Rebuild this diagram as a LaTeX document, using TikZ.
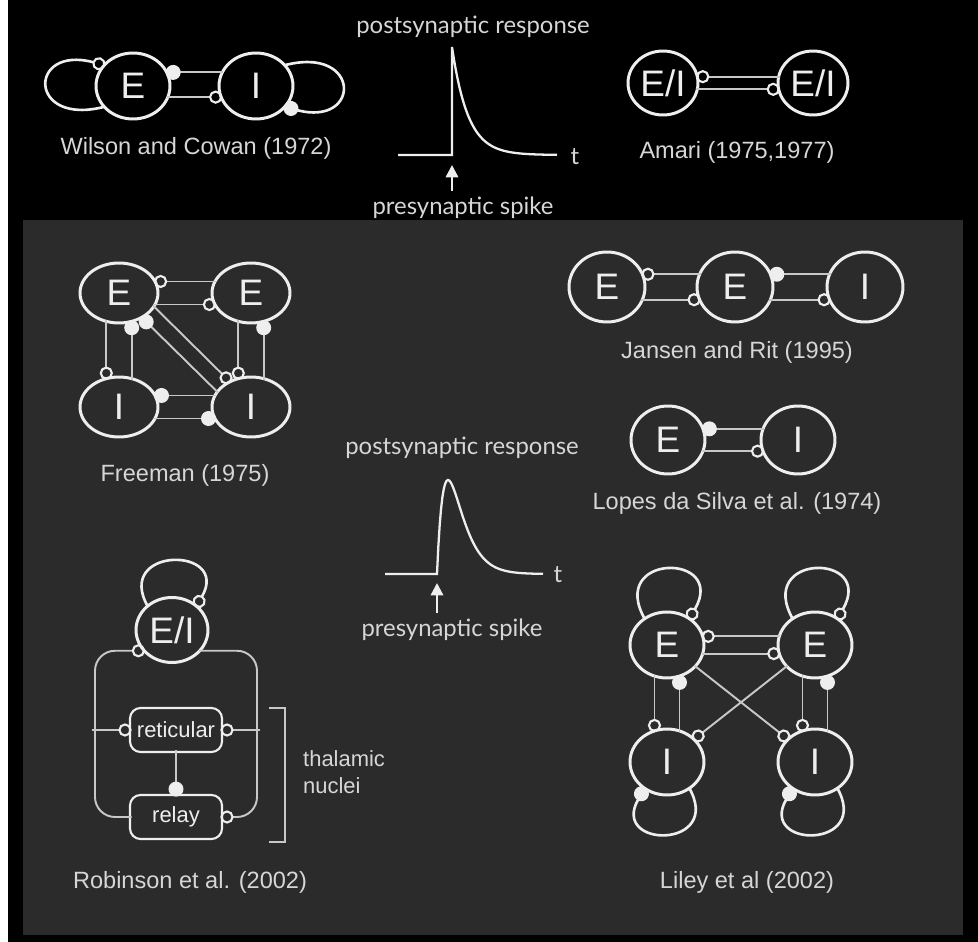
\documentclass[tikz,border=0pt]{standalone}
\usepackage{fontspec}
\setmainfont{Liberation Sans}
\newfontfamily\humfont{Lato}
\usetikzlibrary{shapes.geometric,arrows.meta,positioning}

\definecolor{panel}{HTML}{2B2B2B}
\definecolor{fg}{HTML}{EEEEEE}
\definecolor{wirecol}{HTML}{C8C8C8}
\definecolor{txt}{HTML}{D6D6D6}

\tikzset{
  opensyn/.tip={Circle[open,length=7.5pt,color=fg,line width=1.2pt]},
  fullsyn/.tip={Circle[length=8.5pt,color=fg]},
  pop/.style={ellipse, draw=fg, line width=1.7pt, fill=panel, text=fg,
    minimum width=1.48cm, minimum height=1.32cm, inner sep=0pt,
    font=\fontsize{21}{24}\selectfont},
  toppop/.style={pop, fill=black},
  nucleus/.style={rectangle, rounded corners=6pt, draw=fg, line width=1.2pt,
    fill=panel, text=fg, minimum width=1.84cm, minimum height=0.88cm,
    font=\fontsize{12.5}{15}\selectfont},
  wire/.style={draw=wirecol, line width=1.1pt, shorten >=-1.5pt, shorten <=-1.5pt},
  loopwire/.style={draw=fg, line width=1.5pt, shorten >=-1.5pt, shorten <=-1.5pt},
  caption/.style={text=txt, font=\fontsize{13.4}{16}\selectfont},
  trace/.style={draw=fg, line width=1.3pt},
  tracelabel/.style={text=txt, font=\humfont\fontsize{13.6}{16}\selectfont},
}

\begin{document}
\begin{tikzpicture}[x=0.02cm, y=0.02cm]
\useasboundingbox (0,0) rectangle (978,-942);
\fill[white] (0,0) rectangle (8,-942);
\fill[black] (8,0) rectangle (978,-942);
\fill[panel] (23,-220) rectangle (963,-935);

% Wilson and Cowan
\node[toppop] (wcE) at (133,-86) {E};
\node[toppop] (wcI) at (256,-86) {I};
\draw[wire,-fullsyn] (wcI.159) -- (wcE.21);
\draw[wire,-opensyn] (wcE.-17) -- (wcI.197);
\draw[loopwire,opensyn-] (wcE.145) .. controls +(165:78) and +(195:78) .. (wcE.215);
\draw[loopwire,fullsyn-] (wcI.-35) .. controls +(-15:78) and +(15:78) .. (wcI.35);
\node[caption] (wcLabel) at (196,-148) {Wilson and Cowan (1972)};

% kernel, top
\node[tracelabel] (topPost) at (473,-27) {postsynaptic response};
\draw[trace] (398,-155) -- (452,-155) -- (452,-47)
  -- plot[domain=0:105, samples=60] ({452+\x}, {-155+108*exp(-\x/16)});
\node[tracelabel] (topT) at (575,-157) {t};
\coordinate (topOnset) at (452,-165);
\node[tracelabel] (topPre) at (463,-208) {presynaptic spike};
\draw[trace,-{Triangle[length=7pt,width=7pt]}] (topPre.north -| topOnset) -- (topOnset);

% Amari
\node[toppop, minimum width=1.4cm, minimum height=1.28cm] (amL) at (663,-83) {E/I};
\node[toppop, minimum width=1.4cm, minimum height=1.28cm] (amR) at (813,-83) {E/I};
\draw[wire,-opensyn] (amR.170) -- (amL.10);
\draw[wire,-opensyn] (amL.-10) -- (amR.190);
\node[caption] (amLabel) at (737,-152) {Amari (1975,1977)};

% Freeman
\tikzset{flatpop/.style={pop, minimum width=1.56cm, minimum height=1.2cm}}
\node[flatpop] (frE1) at (119,-293) {E};
\node[flatpop] (frE2) at (251,-293) {E};
\node[flatpop] (frI1) at (119,-407) {I};
\node[flatpop] (frI2) at (251,-407) {I};
\draw[wire,-opensyn] (frE2.163) -- (frE1.17);
\draw[wire,-opensyn] (frE1.-17) -- (frE2.197);
\draw[wire,-fullsyn] (frI2.163) -- (frI1.17);
\draw[wire,-fullsyn] (frI1.-17) -- (frI2.197);
\draw[wire,-opensyn] (frE1.-113) -- (frI1.113);
\draw[wire,-fullsyn] (frI1.67) -- (frE1.-67);
\draw[wire,-opensyn] (frE2.-113) -- (frI2.113);
\draw[wire,-fullsyn] (frI2.67) -- (frE2.-67);
\draw[wire,-opensyn] (frE1.-22) -- (frI2.130);
\draw[wire,-fullsyn] (frI2.155) -- (frE1.-47);
\node[caption] (frLabel) at (185,-475) {Freeman (1975)};

% Jansen and Rit
\tikzset{bigpop/.style={pop, minimum width=1.52cm, minimum height=1.4cm}}
\node[bigpop] (jrE1) at (607,-287) {E};
\node[bigpop] (jrE2) at (735,-287) {E};
\node[bigpop] (jrI) at (865,-287) {I};
\draw[wire,-opensyn] (jrE2.161) -- (jrE1.19);
\draw[wire,-opensyn] (jrE1.-19) -- (jrE2.199);
\draw[wire,-fullsyn] (jrI.161) -- (jrE2.19);
\draw[wire,-opensyn] (jrE2.-19) -- (jrI.199);
\node[caption] (jrLabel) at (737,-352) {Jansen and Rit (1995)};

% Lopes da Silva
\node[pop, minimum height=1.36cm] (lsE) at (668,-440) {E};
\node[pop, minimum height=1.36cm] (lsI) at (798,-440) {I};
\draw[wire,-fullsyn] (lsI.163) -- (lsE.17);
\draw[wire,-opensyn] (lsE.-17) -- (lsI.197);
\node[caption] (lsLabel) at (737,-503) {Lopes da Silva et al. (1974)};

% kernel, middle
\node[tracelabel] (midPost) at (462,-448) {postsynaptic response};
\draw[trace] (385,-574) -- (437,-574)
  -- plot[domain=0:106, samples=80] ({437+\x}, {-574+94*(\x/11)*exp(1-\x/11)});
\node[tracelabel] (midT) at (558,-575) {t};
\coordinate (midOnset) at (437,-583);
\node[tracelabel] (midPre) at (452,-630) {presynaptic spike};
\draw[trace,-{Triangle[length=7pt,width=7pt]}] (midPre.north -| midOnset) -- (midOnset);

% Robinson et al.
\node[pop, minimum width=1.44cm, minimum height=1.3cm] (rbEI) at (172,-630) {E/I};
\node[nucleus] (rbRet) at (176,-730) {reticular};
\node[nucleus] (rbRelay) at (176,-817) {relay};
\coordinate (rbLeft) at (95,-730);
\coordinate (rbRight) at (257,-730);
\draw[loopwire,opensyn-] (rbEI.45) .. controls +(60:68) and +(120:68) .. (rbEI.135);
\draw[wire,-opensyn,rounded corners=0.4cm] (rbRelay.west) -| (rbLeft) |- (rbEI.215);
\draw[wire,-opensyn,rounded corners=0.4cm] (rbEI.325) -| (rbRight) |- (rbRelay.east);
\draw[wire,-opensyn] (rbLeft) -- (rbRet.west);
\draw[wire,-opensyn] (rbRight) -- (rbRet.east);
\draw[wire,-fullsyn] (rbRet) -- (rbRelay);
\draw[wire] (272,-708) -| (285,-842) -- (272,-842);
\node[caption, anchor=west, align=left, font=\fontsize{12.5}{15}\selectfont] (rbNuclei) at (297,-772) {thalamic\\nuclei};
\node[caption] (rbLabel) at (190,-882) {Robinson et al. (2002)};

% Liley et al.
\node[pop] (lyEL) at (667,-645) {E};
\node[pop] (lyER) at (815,-645) {E};
\node[pop] (lyIL) at (667,-762) {I};
\node[pop] (lyIR) at (815,-762) {I};
\draw[wire,-opensyn] (lyER.167) -- (lyEL.13);
\draw[wire,-opensyn] (lyEL.-13) -- (lyER.193);
\draw[wire,-opensyn] (lyEL.-111) -- (lyIL.111);
\draw[wire,-fullsyn] (lyIL.69) -- (lyEL.-69);
\draw[wire,-opensyn] (lyER.-111) -- (lyIR.111);
\draw[wire,-fullsyn] (lyIR.69) -- (lyER.-69);
\draw[wire,-opensyn] (lyEL.-37) -- (lyIR.140);
\draw[wire,-opensyn] (lyER.-143) -- (lyIL.40);
\draw[loopwire,opensyn-] (lyEL.50) .. controls +(60:75) and +(120:75) .. (lyEL.130);
\draw[loopwire,opensyn-] (lyER.50) .. controls +(60:75) and +(120:75) .. (lyER.130);
\draw[loopwire,fullsyn-] (lyIL.230) .. controls +(240:69) and +(300:69) .. (lyIL.310);
\draw[loopwire,fullsyn-] (lyIR.230) .. controls +(240:69) and +(300:69) .. (lyIR.310);
\node[caption] (lyLabel) at (747,-882) {Liley et al (2002)};
\end{tikzpicture}
\end{document}
